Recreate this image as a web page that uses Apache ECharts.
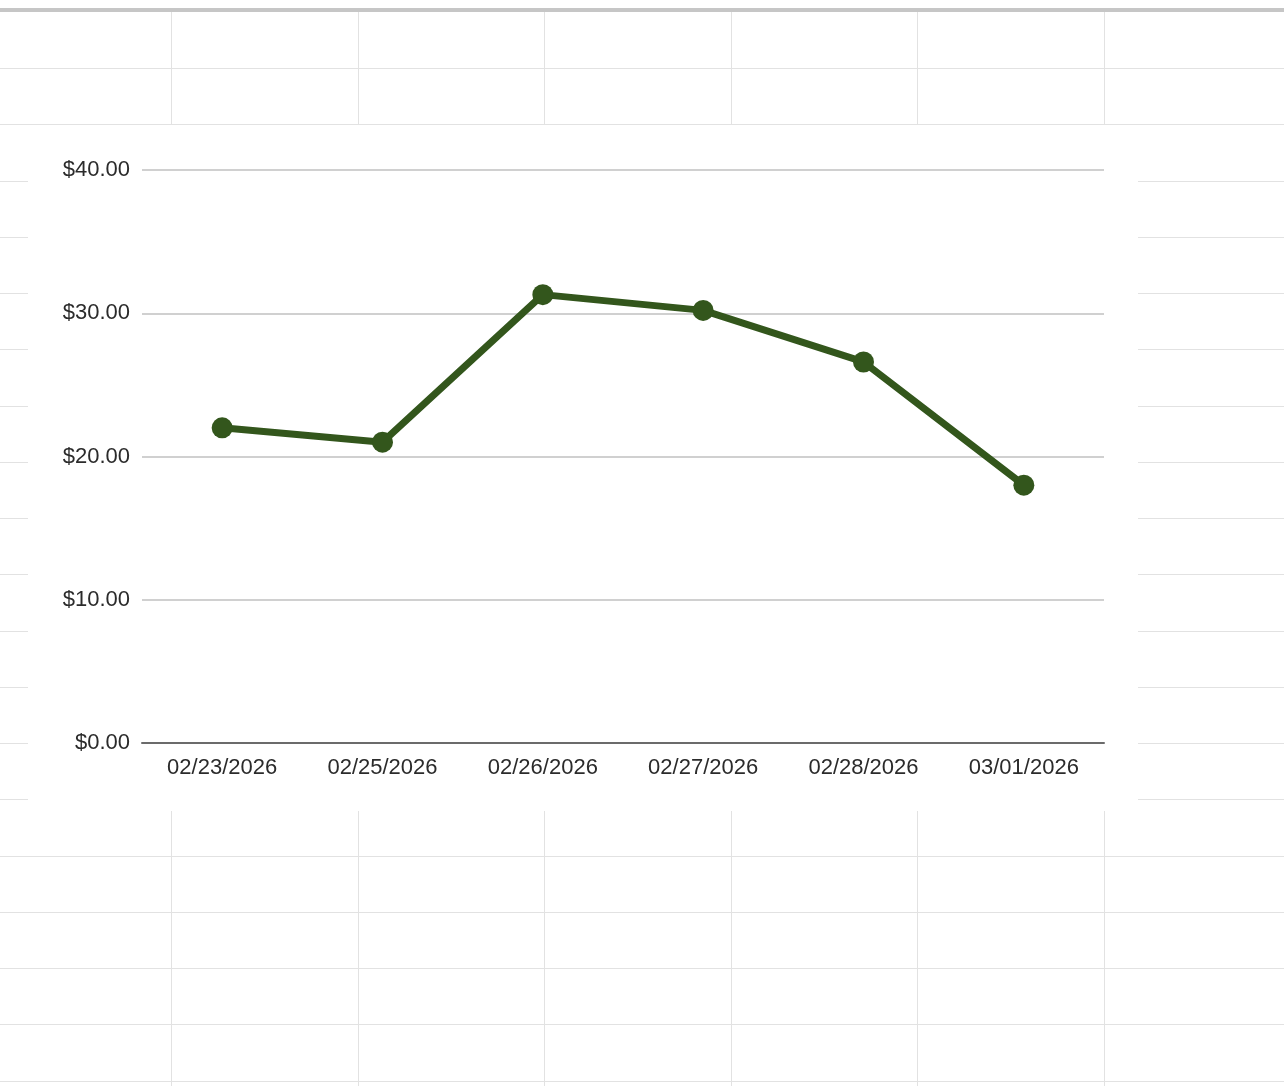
<!DOCTYPE html>
<html>
<head>
<meta charset="utf-8">
<title>Price chart</title>
<script src="https://cdn.jsdelivr.net/npm/echarts@6/dist/echarts.min.js"></script>
<style>
    html, body { margin: 0; padding: 0; width: 1284px; height: 1086px; overflow: hidden; background: #fff; }
    .hl { position: absolute; left: 0; width: 1284px; height: 1px; background: #e2e2e2; }
    .vl { position: absolute; top: 12px; width: 1px; height: 1074px; background: #e2e2e2; }
    #topbar { position: absolute; left: 0; top: 8px; width: 1284px; height: 4px; background: #c6c6c6; }
    #card { position: absolute; left: 28px; top: 125px; width: 1110px; height: 686px; background: #fff; }
    #charts { position: absolute; left: 0; top: 0; width: 1284px; height: 1086px; }
</style>
</head>
<body>
<div id="sheet"></div>
<div id="topbar"></div>
<div id="card"></div>
<div id="charts"></div>
<script>
    // chart data
    var dates = ['02/23/2026', '02/25/2026', '02/26/2026', '02/27/2026', '02/28/2026', '03/01/2026'];
    var prices = [22.0, 21.0, 31.3, 30.2, 26.6, 18.0];
    var yTicks = [0, 10, 20, 30, 40];

    // spreadsheet cells behind the chart
    var sheet = document.getElementById('sheet');
    for (var r = 0; r < 19; r++) {
        var h = document.createElement('div');
        h.className = 'hl';
        h.style.top = Math.round(68 + r * 56.25) + 'px';
        sheet.appendChild(h);
    }
    for (var c = 0; c < 6; c++) {
        var v = document.createElement('div');
        v.className = 'vl';
        v.style.left = Math.round(171 + c * 186.6) + 'px';
        sheet.appendChild(v);
    }

    var font = 'Arial, "Liberation Sans", sans-serif';
    var lineColor = '#33561c';

    var chart = echarts.init(document.getElementById('charts'), null, {renderer: 'canvas'});
    chart.setOption({
        backgroundColor: 'transparent',
        animation: false,
        grid: {
            left: 142,
            right: 180,
            top: 170,
            bottom: 343
        },
        xAxis: {
            type: 'category',
            boundaryGap: true,
            data: dates,
            axisLine: {lineStyle: {color: '#6b6b6b', width: 2}},
            axisTick: {show: false},
            axisLabel: {
                color: '#2b2b2b',
                fontFamily: font,
                fontSize: 22,
                margin: 14,
                interval: 0
            },
            splitLine: {show: false}
        },
        yAxis: {
            type: 'value',
            min: yTicks[0],
            max: yTicks[yTicks.length - 1],
            interval: yTicks[1] - yTicks[0],
            axisLine: {show: false},
            axisTick: {show: false},
            axisLabel: {
                color: '#2b2b2b',
                fontFamily: font,
                fontSize: 22,
                margin: 12,
                padding: [4, 0, 0, 0],
                formatter: function (val) {
                    return '$' + val.toFixed(2);
                }
            },
            splitLine: {lineStyle: {color: '#d0d0d0', width: 2}}
        },
        series: [{
            type: 'line',
            data: prices,
            symbol: 'circle',
            symbolSize: 21,
            lineStyle: {color: lineColor, width: 7},
            itemStyle: {color: lineColor},
            z: 3
        }]
    });
</script>
</body>
</html>
